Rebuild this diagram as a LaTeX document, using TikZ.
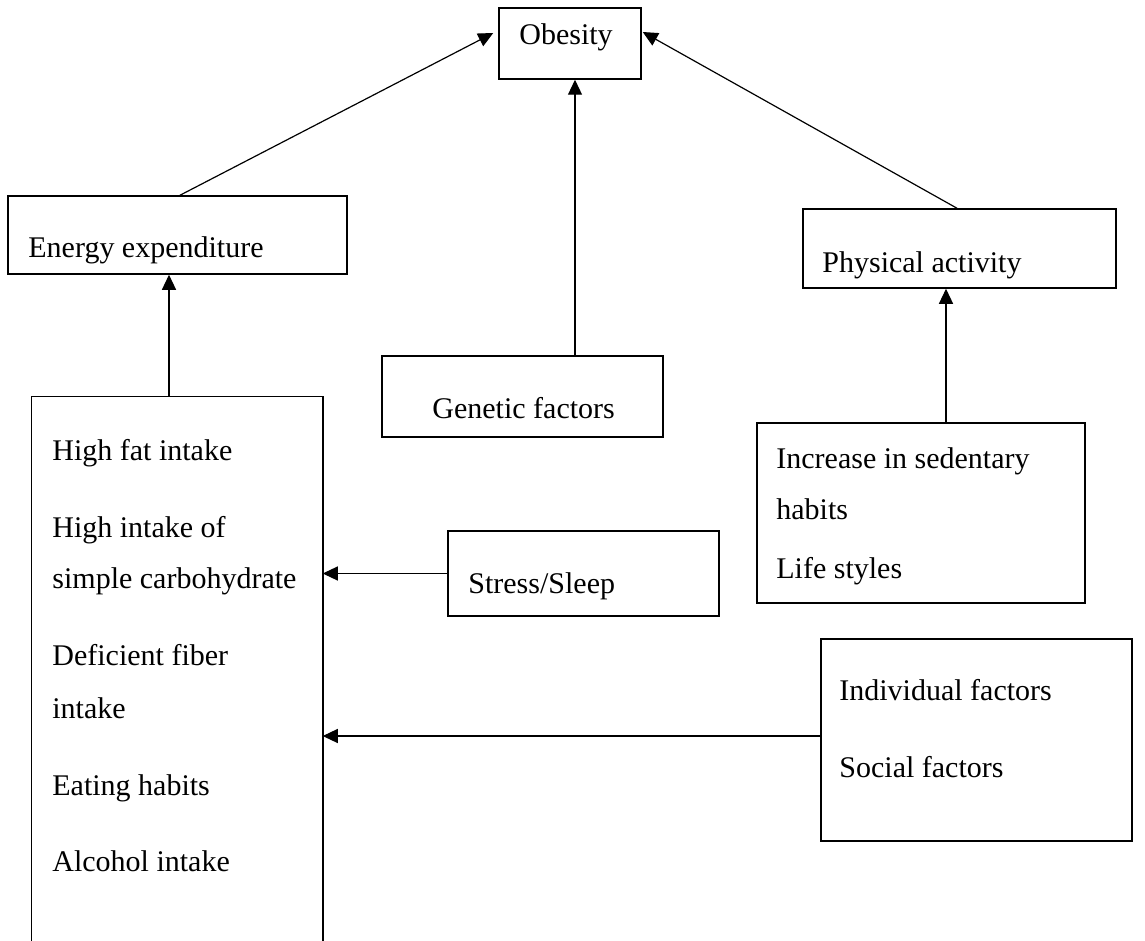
\documentclass[tikz,border=0pt]{standalone}
\usepackage{fontspec}
\setmainfont{Liberation Serif}
\usetikzlibrary{arrows.meta}

\begin{document}
\begin{tikzpicture}[x=0.5pt, y=-0.5pt, >={Triangle[length=7.5pt,width=7pt]},
    box/.style={rectangle, draw, line width=0.75pt, inner sep=0pt},
    txt/.style={anchor=base west, inner sep=0pt, font=\fontsize{15}{18}\selectfont}]
    \useasboundingbox (0,0) rectangle (1145,941);

    % boxes
    \node[box, minimum width=71pt, minimum height=35.5pt] (obesity) at (570,43.5) {};
    \node[box, minimum width=169.5pt, minimum height=39pt] (energy) at (177.5,235) {};
    \node[box, minimum width=140.5pt, minimum height=40.5pt] (genetic) at (522.5,396.5) {};
    \node[box, minimum width=156.5pt, minimum height=39.5pt] (physical) at (959.5,248.5) {};
    \node[box, draw=none, minimum width=145pt, minimum height=276pt] (diet) at (177,673) {};
    \node[box, minimum width=135.5pt, minimum height=42.5pt] (stress) at (583.5,573.5) {};
    \node[box, minimum width=164pt, minimum height=90pt] (sedentary) at (921,513) {};
    \node[box, line width=0.55pt, minimum width=155.5pt, minimum height=101pt] (social) at (976.5,740) {};
    \draw[line width=0.75pt] (diet.south west) -- (diet.north west) -- (diet.north east) -- (diet.south east);

    % texts
    \node[txt] (t_obesity) at (519,45) {Obesity};
    \node[txt] (t_energy) at (28,257) {Energy expenditure};
    \node[txt] (t_genetic) at (432,418) {Genetic factors};
    \node[txt] (t_physical) at (822,272) {Physical activity};
    \node[txt] (t_fat) at (52,460) {High fat intake};
    \node[txt] (t_carb1) at (52,537) {High intake of};
    \node[txt] (t_carb2) at (52,588) {simple carbohydrate};
    \node[txt] (t_fiber1) at (52,665) {Deficient fiber};
    \node[txt] (t_fiber2) at (52,718) {intake};
    \node[txt] (t_eating) at (52,795) {Eating habits};
    \node[txt] (t_alcohol) at (52,871) {Alcohol intake};
    \node[txt] (t_stress) at (468,593) {Stress/Sleep};
    \node[txt] (t_sed1) at (776,468) {Increase in sedentary};
    \node[txt] (t_sed2) at (776,519) {habits};
    \node[txt] (t_life) at (776,578) {Life styles};
    \node[txt] (t_indiv) at (839,700) {Individual factors};
    \node[txt] (t_social) at (839,777) {Social factors};

    % connectors
    \draw[->, line width=0.6pt] ([xshift=1.25pt]energy.north) -- ([yshift=5.25pt, xshift=-2.5pt]obesity.west);
    \draw[->, line width=0.6pt] ([xshift=26.25pt]genetic.north) -- ([xshift=26.25pt]genetic.north |- obesity.south);
    \draw[->, line width=0.6pt] ([xshift=-1.25pt]physical.north) -- ([yshift=5.75pt, xshift=0.5pt]obesity.east);
    \draw[->, line width=0.6pt] ([xshift=-4pt]diet.north) -- ([xshift=-4pt]diet.north |- energy.south);
    \draw[->, line width=0.6pt] ([xshift=12.5pt]sedentary.north) -- ([xshift=12.5pt]sedentary.north |- physical.south);
    \draw[->, line width=0.6pt] (stress.west) -- (stress.west -| diet.east);
    \draw[->, line width=0.6pt] ([yshift=2pt]social.west) -- ([yshift=2pt]social.west -| diet.east);
\end{tikzpicture}
\end{document}
